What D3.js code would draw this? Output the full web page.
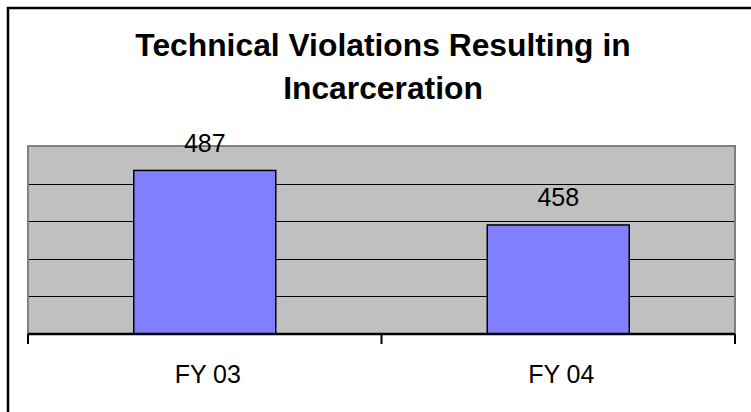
<!DOCTYPE html>
<html lang="en">
<head>
<meta charset="utf-8">
<title>Technical Violations Resulting in Incarceration</title>
<script src="https://cdn.jsdelivr.net/npm/d3@7/dist/d3.min.js"></script>
<style>
  body { margin: 0; background: #fff; }
  svg { display: block; font-family: "Liberation Sans", Arial, sans-serif; }
</style>
</head>
<body>
<svg width="751" height="412"></svg>
<script>
// chart data
var categories = ["FY 03", "FY 04"];
var values = [487, 458];
var titleLines = ["Technical Violations Resulting in", "Incarceration"];
var yDomain = [400, 500];
var yTicks = [400, 420, 440, 460, 480, 500];

var svg = d3.select("svg");

// outer frame (runs off the right and bottom edges)
svg.append("rect")
    .attr("x", 8).attr("y", 8)
    .attr("width", 760).attr("height", 420)
    .attr("fill", "none")
    .attr("stroke", "#000")
    .attr("stroke-width", 2.5);

// title
svg.append("text")
    .attr("x", 383)
    .attr("y", 56)
    .attr("text-anchor", "middle")
    .attr("font-size", "31.8px")
    .attr("font-weight", "bold")
    .selectAll("tspan")
    .data(titleLines)
    .enter().append("tspan")
    .attr("x", 383)
    .attr("dy", function(d, i) { return i === 0 ? 0 : 43; })
    .text(function(d) { return d; });

var plotL = 28, plotR = 735, plotT = 146, plotB = 334;

var x = d3.scaleBand().domain(categories).range([plotL, plotR]).paddingInner(0).paddingOuter(0);
var y = d3.scaleLinear().domain(yDomain).range([plotB, plotT]);

// plot background
svg.append("rect")
    .attr("x", plotL).attr("y", plotT)
    .attr("width", plotR - plotL).attr("height", plotB - plotT)
    .attr("fill", "#c0c0c0");

// gridlines
svg.append("g")
    .selectAll("line")
    .data(yTicks.slice(1, -1))
    .enter().append("line")
    .attr("x1", plotL).attr("x2", plotR)
    .attr("y1", function(d) { return Math.round(y(d)) + 0.5; })
    .attr("y2", function(d) { return Math.round(y(d)) + 0.5; })
    .attr("stroke", "#000")
    .attr("stroke-width", 1);

// plot area border (gray, left/top/right)
svg.append("path")
    .attr("d", "M" + plotL + "," + plotB + "V" + plotT + "H" + plotR + "V" + plotB)
    .attr("fill", "none")
    .attr("stroke", "#808080")
    .attr("stroke-width", 2);

// bars
var barW = 142;
svg.selectAll(".bar")
    .data(values)
    .enter().append("rect")
    .attr("class", "bar")
    .attr("x", function(d, i) { return x(categories[i]) + (x.bandwidth() - barW) / 2; })
    .attr("y", function(d) { return y(d); })
    .attr("width", barW)
    .attr("height", function(d) { return plotB - y(d); })
    .attr("fill", "#8080ff")
    .attr("stroke", "#000")
    .attr("stroke-width", 1.5);

// value labels
svg.selectAll(".val")
    .data(values)
    .enter().append("text")
    .attr("class", "val")
    .attr("x", function(d, i) { return x(categories[i]) + x.bandwidth() / 2; })
    .attr("y", function(d) { return y(d) - 18.5; })
    .attr("text-anchor", "middle")
    .attr("font-size", "25px")
    .attr("fill", "#000")
    .text(function(d) { return d; });

// x axis
var xAxis = svg.append("g")
    .attr("transform", "translate(0," + plotB + ")");
xAxis.append("line")
    .attr("x1", plotL).attr("x2", plotR)
    .attr("stroke", "#000").attr("stroke-width", 2.5);
var tickXs = [plotL].concat(categories.map(function(c) { return x(c) + x.bandwidth(); }));
xAxis.selectAll(".tick")
    .data(tickXs)
    .enter().append("line")
    .attr("class", "tick")
    .attr("x1", function(d) { return d; }).attr("x2", function(d) { return d; })
    .attr("y1", 0).attr("y2", 10)
    .attr("stroke", "#000").attr("stroke-width", 2);
xAxis.selectAll(".lbl")
    .data(categories)
    .enter().append("text")
    .attr("class", "lbl")
    .attr("x", function(d) { return x(d) + x.bandwidth() / 2 + 3; })
    .attr("y", 49)
    .attr("text-anchor", "middle")
    .attr("font-size", "25px")
    .attr("fill", "#000")
    .text(function(d) { return d; });
</script>
</body>
</html>
